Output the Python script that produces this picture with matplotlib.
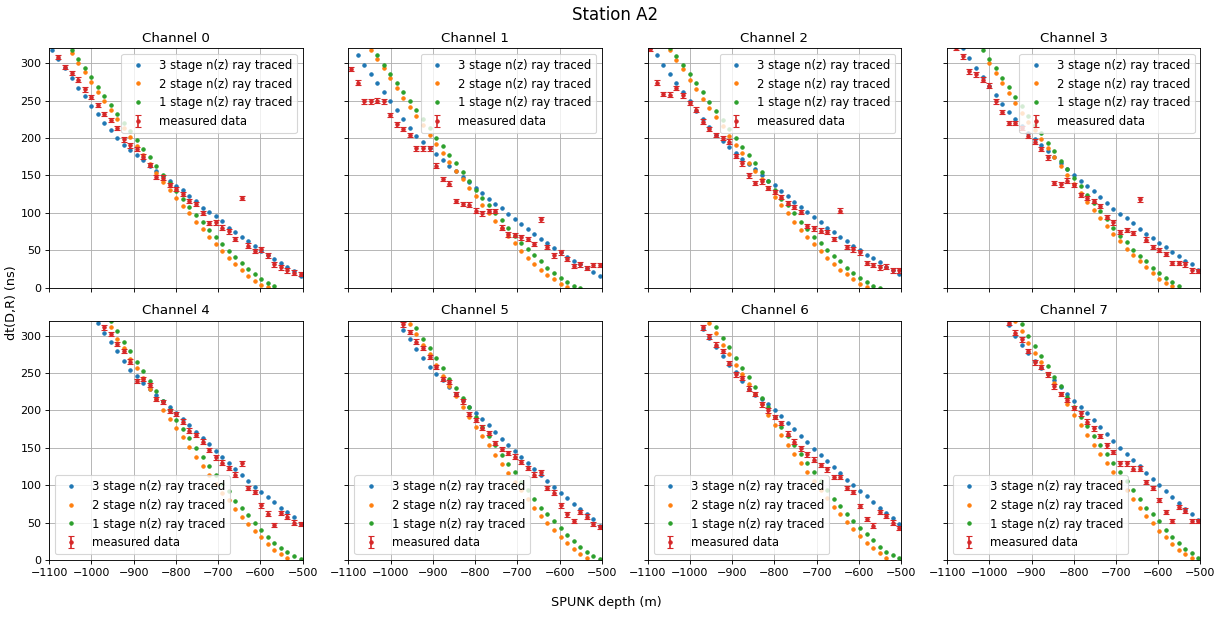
import numpy as np
import matplotlib
matplotlib.use("Agg")
import matplotlib.pyplot as plt

nan = np.nan

# SPUNK depths (m), shared by all channels
depth = [-1094, -1078, -1063, -1047, -1032, -1016, -1001, -985, -970, -954,
         -939, -923, -908, -892, -877, -861, -846, -830, -815, -799,
         -784, -768, -753, -737, -722, -706, -691, -675, -660, -644,
         -629, -613, -598, -582, -567, -551, -536, -520, -505]

# dt(D,R) in ns, per channel: 3 stage, 2 stage, 1 stage ray tracing, and measured
ch0_3 = [318, 305, 293, 280, 267, 256, 243, 232, 220, 210, 200, 191, 184, 177, 170, 163, 156, 149, 142, 136,
         130, 123, 116, 107, 101, 95, 89, 80, 74, 67, 62, 56, 49, 44, 38, 33, 27, 22, 16]
ch0_2 = [nan, nan, nan, 313, 300, 288, 275, 262, 250, 238, 226, 213, 201, 189, 177, 165, 153, 141, 130, 120,
         109, 99, 88, 78, 68, 58, 49, 40, 31, 24, 16, 9, 4, 1, nan, nan, nan, nan, nan]
ch0_1 = [nan, nan, nan, 318, 305, 293, 281, 268, 256, 244, 232, 220, 209, 197, 185, 174, 162, 151, 140, 129,
         118, 108, 97, 87, 77, 67, 58, 49, 41, 33, 25, 18, 12, 6, 2, nan, nan, nan, nan]
ch0_m = [nan, 308, 295, 287, 278, 265, 255, 244, 232, 224, 213, 198, 190, 185, 175, 164, 148, 147, 137, 132,
         125, 116, 112, 100, 86, 87, 80, 75, 65, 120, 56, 49, 51, 43, 31, 27, 23, 20, 18]

ch1_3 = [nan, 311, 298, 285, 273, 261, 250, 237, 225, 213, 203, 194, 186, 178, 171, 163, 156, 148, 141, 133,
         126, 119, 112, 106, 98, 92, 85, 78, 72, 65, 60, 53, 47, 41, 36, 31, 26, 21, 16]
ch1_2 = [nan, nan, nan, 318, 305, 293, 280, 267, 254, 241, 229, 217, 204, 192, 180, 168, 156, 145, 133, 122,
         111, 100, 89, 79, 69, 59, 49, 40, 32, 24, 17, 11, 5, 1, nan, nan, nan, nan, nan]
ch1_1 = [nan, nan, nan, nan, 311, 298, 285, 274, 261, 249, 237, 226, 213, 200, 189, 177, 166, 155, 143, 131,
         120, 110, 100, 90, 80, 69, 60, 51, 43, 35, 26, 19, 13, 7, 2, 0, nan, nan, nan]
ch1_m = [292, 274, 249, 249, 250, 249, 231, 218, 212, 204, 186, 186, 186, 163, 145, 139, 116, 112, 111, 103,
         99, 102, 102, 80, 71, 70, 67, 65, 58, 91, 54, 43, 47, 38, 29, 31, 26, 30, 30]

ch2_3 = [320, 311, 298, 285, 273, 261, 249, 236, 225, 214, 204, 196, 188, 180, 172, 165, 158, 150, 143, 137,
         129, 122, 115, 108, 101, 94, 87, 80, 74, 68, 62, 56, 50, 44, 39, 34, 28, 23, 18]
ch2_2 = [nan, nan, nan, 318, 304, 292, 278, 265, 252, 240, 228, 216, 203, 191, 180, 167, 156, 145, 133, 121,
         110, 99, 88, 77, 67, 58, 49, 40, 32, 24, 18, 11, 5, 1, nan, nan, nan, nan, nan]
ch2_1 = [nan, nan, nan, 320, 310, 297, 285, 273, 261, 248, 236, 224, 212, 200, 188, 177, 166, 155, 143, 131,
         119, 110, 99, 88, 78, 68, 59, 50, 42, 35, 26, 19, 13, 7, 2, 0, nan, nan, nan]
ch2_m = [319, 274, 259, 258, 267, 257, 247, 238, 222, 212, 204, 200, 195, 176, 166, 150, 140, 142, 133, 128,
         121, 113, 108, 101, 82, 79, 76, 74, 65, 103, 54, 51, 47, 33, 30, 27, 28, 23, 23]

ch3_3 = [nan, nan, 320, 307, 294, 282, 270, 258, 246, 235, 226, 216, 206, 198, 190, 182, 174, 166, 158, 151,
         143, 136, 129, 121, 113, 105, 98, 93, 86, 78, 72, 66, 59, 54, 48, 42, 36, 31, 24]
ch3_2 = [nan, nan, nan, nan, nan, nan, 300, 287, 273, 260, 247, 234, 222, 210, 198, 186, 174, 162, 150, 138,
         127, 115, 104, 93, 82, 72, 62, 52, 43, 35, 27, 19, 12, 6, 2, nan, nan, nan, nan]
ch3_1 = [nan, nan, nan, nan, nan, 318, 306, 293, 280, 268, 255, 243, 230, 217, 206, 193, 182, 169, 158, 147,
         136, 124, 113, 102, 91, 80, 69, 61, 50, 42, 35, 26, 19, 13, 7, 2, nan, nan, nan]
ch3_m = [nan, 320, 309, 289, 285, 278, 270, 249, 235, 220, 220, 213, 203, 195, 185, 174, 140, 138, 143, 137,
         124, 120, 116, 109, 94, 87, 74, 77, 73, 118, 64, 54, 50, 45, 33, 33, 31, 23, 22]

ch4_3 = [nan, nan, nan, nan, nan, nan, nan, 317, 304, 291, 279, 266, 254, 246, 237, 229, 221, 212, 204, 196,
         188, 180, 171, 163, 155, 146, 138, 130, 122, 114, 106, 98, 91, 84, 77, 70, 64, 57, 48]
ch4_2 = [nan, nan, nan, nan, nan, nan, nan, nan, nan, 311, 296, 283, 269, 256, 243, 229, 215, 201, 188, 176,
         164, 151, 138, 126, 114, 102, 90, 80, 68, 57, 48, 39, 30, 21, 13, 8, 2, nan, nan]
ch4_1 = [nan, nan, nan, nan, nan, nan, nan, nan, nan, 320, 306, 292, 279, 265, 252, 239, 226, 213, 200, 187,
         175, 163, 150, 137, 125, 114, 102, 92, 79, 70, 60, 49, 40, 31, 23, 16, 10, 5, 1]
ch4_m = [nan, nan, nan, nan, nan, nan, nan, nan, 311, 302, 289, 279, 265, 239, 242, 234, 215, 211, 199, 195,
         185, 173, 167, 158, 147, 137, 130, 123, 114, 129, 96, 91, 73, 62, 47, 63, 58, 50, 48]

ch5_3 = [nan, nan, nan, nan, nan, nan, nan, nan, 307, 295, 282, 270, 258, 248, 240, 231, 222, 214, 205, 197,
         189, 180, 171, 162, 153, 145, 137, 129, 121, 113, 105, 97, 90, 83, 75, 68, 62, 55, 46]
ch5_2 = [nan, nan, nan, nan, nan, nan, nan, nan, nan, 315, 302, 288, 275, 261, 246, 233, 219, 205, 191, 178,
         166, 153, 140, 128, 116, 104, 93, 82, 70, 59, 49, 40, 31, 22, 15, 8, 2, nan, nan]
ch5_1 = [nan, nan, nan, nan, nan, nan, nan, nan, nan, nan, 310, 296, 283, 270, 256, 242, 230, 217, 204, 191,
         178, 165, 153, 140, 128, 117, 104, 93, 82, 70, 61, 52, 42, 33, 25, 17, 10, 5, 1]
ch5_m = [nan, nan, nan, nan, nan, nan, nan, nan, 315, 305, 292, 283, 271, 258, 242, 238, 222, 212, 195, 187,
         177, 170, 156, 148, 143, 138, 131, 123, 114, 117, 96, 90, 73, 61, 52, 64, 58, 48, 44]

ch6_3 = [nan, nan, nan, nan, nan, nan, nan, nan, 309, 297, 285, 273, 261, 251, 239, 229, 221, 215, 208, 200,
         192, 183, 175, 166, 157, 148, 140, 132, 124, 116, 107, 100, 92, 85, 77, 70, 63, 56, 48]
ch6_2 = [nan, nan, nan, nan, nan, nan, nan, nan, nan, 317, 303, 288, 275, 261, 248, 235, 222, 209, 194, 180,
         167, 154, 142, 130, 117, 106, 94, 83, 71, 61, 51, 41, 32, 22, 16, 9, 3, nan, nan]
ch6_1 = [nan, nan, nan, nan, nan, nan, nan, nan, nan, nan, 312, 297, 284, 270, 257, 244, 231, 217, 204, 191,
         178, 165, 154, 141, 129, 117, 105, 94, 82, 72, 61, 52, 43, 34, 26, 17, 11, 6, 2]
ch6_m = [nan, nan, nan, nan, nan, nan, nan, nan, 311, 299, 288, 279, 263, 248, 243, 229, 222, 208, 200, 191,
         183, 169, 158, 149, 141, 134, 127, 121, 111, 111, 96, 91, 72, 55, 46, 64, 59, 50, 43]

ch7_3 = [nan, nan, nan, nan, nan, nan, nan, nan, nan, 314, 299, 287, 276, 266, 257, 248, 240, 231, 222, 213,
         205, 196, 187, 178, 168, 159, 150, 141, 133, 125, 116, 108, 100, 92, 84, 76, 68, 61, 54]
ch7_2 = [nan, nan, nan, nan, nan, nan, nan, nan, nan, nan, 320, 306, 290, 277, 264, 249, 236, 222, 208, 194,
         181, 167, 153, 141, 129, 117, 104, 93, 81, 70, 59, 49, 39, 30, 21, 13, 8, 2, nan]
ch7_1 = [nan, nan, nan, nan, nan, nan, nan, nan, nan, nan, nan, 315, 299, 286, 273, 259, 245, 232, 218, 205,
         191, 179, 166, 154, 141, 129, 117, 105, 93, 82, 70, 61, 52, 40, 31, 23, 15, 9, 2]
ch7_m = [nan, nan, nan, nan, nan, nan, nan, nan, nan, 317, 304, 295, 279, 264, 258, 248, 232, 222, 214, 203,
         196, 185, 176, 166, 153, 144, 129, 129, 122, 122, 104, 96, 80, 64, 52, 71, 66, 52, 52]

meas_err = 3.0  # ns, error bar on measured points

sim3 = [ch0_3, ch1_3, ch2_3, ch3_3, ch4_3, ch5_3, ch6_3, ch7_3]
sim2 = [ch0_2, ch1_2, ch2_2, ch3_2, ch4_2, ch5_2, ch6_2, ch7_2]
sim1 = [ch0_1, ch1_1, ch2_1, ch3_1, ch4_1, ch5_1, ch6_1, ch7_1]
meas = [ch0_m, ch1_m, ch2_m, ch3_m, ch4_m, ch5_m, ch6_m, ch7_m]

# reference looks like it was drawn at about 80 dpi
fig, axs = plt.subplots(2, 4, figsize=(1230 / 80, 618 / 80), dpi=80, sharex=True, sharey=True)
fig.subplots_adjust(left=0.04, right=0.976, top=0.922, bottom=0.094, wspace=0.181, hspace=0.138)

for ch, ax in enumerate(axs.flat):
    ax.plot(depth, sim3[ch], '.', color='C0', label='3 stage n(z) ray traced')
    ax.plot(depth, sim2[ch], '.', color='C1', label='2 stage n(z) ray traced')
    ax.plot(depth, sim1[ch], '.', color='C2', label='1 stage n(z) ray traced')
    ax.errorbar(depth, meas[ch], yerr=meas_err, fmt='.', color='C3', capsize=3,
                label='measured data')
    ax.set_title('Channel %d' % ch)
    ax.grid(True)
    ax.set_xlim(-1100, -500)
    ax.set_ylim(0, 320)
    ax.set_xticks(np.arange(-1100, -499, 100))
    ax.set_yticks(np.arange(0, 301, 50))
    if ch < 4:
        ax.legend(loc='upper right', fontsize=10.5)
    else:
        ax.legend(loc='lower left', fontsize=10.5)

fig.suptitle('Station A2', fontsize=15, y=0.99)
fig.text(0.493, 0.02, 'SPUNK depth (m)', ha='center', fontsize=11.5)
fig.text(0.004, 0.51, 'dt(D,R) (ns)', va='center', rotation=90, fontsize=11.5)

plt.savefig('out.png', dpi=80)
